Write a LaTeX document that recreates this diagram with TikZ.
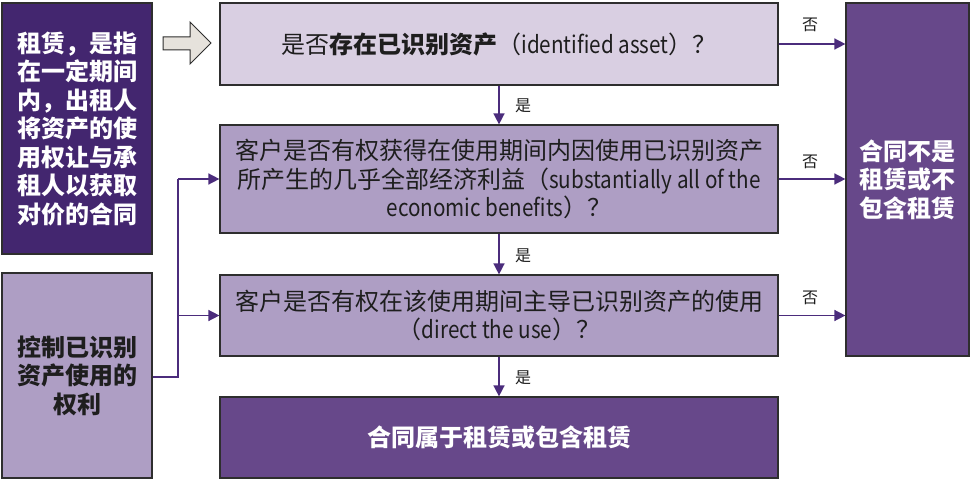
\documentclass[tikz,border=0pt]{standalone}
\usepackage{fontspec}
\setmainfont{Noto Sans CJK SC}
\newfontfamily\narrowlat[FakeStretch=0.86]{Noto Sans CJK SC}
\newcommand{\lat}[1]{{\narrowlat #1}}
\usetikzlibrary{arrows.meta,calc}
\definecolor{deep}{HTML}{43266F}
\definecolor{pale}{HTML}{D9CFE2}
\definecolor{mid}{HTML}{AE9EC4}
\definecolor{strong}{HTML}{67488A}
\definecolor{link}{HTML}{4B2C7C}
\definecolor{ink}{HTML}{1E1E1E}
\definecolor{edge}{HTML}{2E2E2E}
\definecolor{blockfill}{HTML}{E6E2DC}
\tikzset{
  box/.style={draw=edge, line width=1.2pt, inner sep=2pt, align=center, text=ink,
    font=\fontsize{24}{28.5}\selectfont},
  darkbox/.style={box, text=white, font=\fontsize{24}{28.5}\selectfont\bfseries},
  conn/.style={draw=link, line width=1.5pt, -{Triangle[length=11pt,width=11pt]}},
  plain/.style={draw=link, line width=1.5pt},
  lbl/.style={text=ink, font=\fontsize{16}{18}\selectfont, inner sep=0pt},
}
\begin{document}
\begin{tikzpicture}[x=1pt,y=-1pt]
\useasboundingbox (0,0) rectangle (974,484);
% left boxes
\node[darkbox, fill=deep, minimum width=150pt, minimum height=251pt] (L1) at (77,128.5)
  {租赁，是指\\在一定期间\\内，出租人\\将资产的使\\用权让与承\\租人以获取\\对价的合同};
\node[darkbox, fill=mid, text=ink, minimum width=150pt, minimum height=205pt] (L2) at (77,375.5)
  {控制已识别\\资产使用的\\权利};
% hollow block arrow
\draw[draw=edge, fill=blockfill, line width=1pt]
  (163,37) -- (190,37) -- (190,22) -- (211,43) -- (190,64) -- (190,50) -- (163,50) -- cycle;
% main column
\node[box, fill=pale, minimum width=558pt, minimum height=82pt] (A) at (499,44)
  {是否\textbf{存在已识别资产}（\lat{identified asset}）？};
\node[box, fill=mid, minimum width=558pt, minimum height=108pt] (B) at (499,179)
  {客户是否有权获得在使用期间内因使用已识别资产\\所产生的几乎全部经济利益（\lat{substantially all of the}\\\lat{economic benefits}）？};
\node[box, fill=mid, minimum width=558pt, minimum height=81pt] (C) at (499,315.5)
  {客户是否有权在该使用期间主导已识别资产的使用\\（\lat{direct the use}）？};
\node[darkbox, fill=strong, minimum width=558pt, minimum height=81pt] (D) at (499,437.5)
  {合同属于租赁或包含租赁};
\node[darkbox, fill=strong, minimum width=123pt, minimum height=353pt] (R) at (907.5,179.5)
  {合同不是\\租赁或不\\包含租赁};
% vertical yes arrows
\draw[conn] (A.south) -- (B.north);
\draw[conn] (B.south) -- (C.north);
\draw[conn] (C.south) -- (D.north);
\node[lbl] (y1) at (523,106) {是};
\node[lbl] (y2) at (523,256) {是};
\node[lbl] (y3) at (523,378) {是};
% horizontal no arrows
\draw[conn] (A.east) -- (A.east -| R.west);
\draw[conn] (B.east) -- (B.east -| R.west);
\draw[conn] (C.east) -- (C.east -| R.west);
\node[lbl] (n1) at (810,25) {否};
\node[lbl] (n2) at (810,162) {否};
\node[lbl] (n3) at (810,298) {否};
% left connector
\coordinate (j) at (178,377);
\draw[plain] (L2.east |- j) -- (j) -- (j |- B.west);
\draw[conn] (j |- B.west) -- (B.west);
\draw[conn] (j |- C.west) -- (C.west);
\end{tikzpicture}
\end{document}
